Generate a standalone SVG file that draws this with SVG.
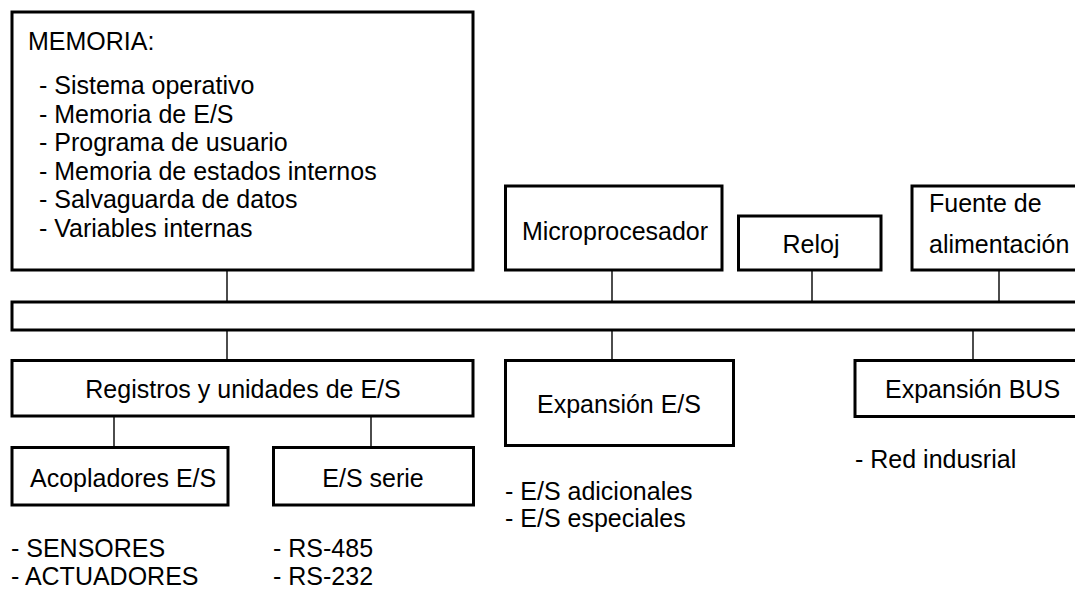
<svg xmlns="http://www.w3.org/2000/svg" width="1075" height="592" viewBox="0 0 1075 592">
<style>
  .box { fill: #ffffff; stroke: #000000; stroke-width: 3; }
  .wire { stroke: #000000; stroke-width: 1.4; fill: none; }
  text { font-family: "Liberation Sans", Arial, sans-serif; font-size: 25px; fill: #000000; }
  .mid { text-anchor: middle; }
</style>
<rect x="0" y="0" width="1075" height="592" fill="#ffffff"/>
<g id="connectors">
  <line class="wire" x1="227" y1="270" x2="227" y2="302"/>
  <line class="wire" x1="612" y1="270" x2="612" y2="302"/>
  <line class="wire" x1="812" y1="270" x2="812" y2="302"/>
  <line class="wire" x1="999" y1="270" x2="999" y2="302"/>
  <line class="wire" x1="227" y1="330" x2="227" y2="361"/>
  <line class="wire" x1="612" y1="330" x2="612" y2="361"/>
  <line class="wire" x1="973" y1="330" x2="973" y2="361"/>
  <line class="wire" x1="114" y1="416" x2="114" y2="447"/>
  <line class="wire" x1="371" y1="416" x2="371" y2="447"/>
</g>
<g id="bus">
  <rect class="box" x="12" y="302" width="1075" height="28"/>
</g>
<g id="memoria">
  <rect class="box" x="12" y="12" width="461" height="258"/>
  <text x="28" y="50">MEMORIA:</text>
  <text x="39" y="94">- Sistema operativo</text>
  <text x="39" y="122.5">- Memoria de E/S</text>
  <text x="39" y="151">- Programa de usuario</text>
  <text x="39" y="179.5">- Memoria de estados internos</text>
  <text x="39" y="208">- Salvaguarda de datos</text>
  <text x="39" y="236.5">- Variables internas</text>
</g>
<g id="microprocesador">
  <rect class="box" x="505.5" y="186" width="216.5" height="84"/>
  <text class="mid" x="615" y="240">Microprocesador</text>
</g>
<g id="reloj">
  <rect class="box" x="738.5" y="216" width="142.5" height="54"/>
  <text class="mid" x="811" y="253">Reloj</text>
</g>
<g id="fuente">
  <rect class="box" x="912" y="186" width="200" height="84"/>
  <text x="929" y="212">Fuente de</text>
  <text x="929" y="253">alimentación</text>
</g>
<g id="registros">
  <rect class="box" x="12" y="360.5" width="461" height="55.5"/>
  <text class="mid" x="243" y="398">Registros y unidades de E/S</text>
</g>
<g id="expansion-es">
  <rect class="box" x="505.5" y="360.5" width="228" height="85"/>
  <text x="537" y="413">Expansión E/S</text>
  <text x="505" y="500">- E/S adicionales</text>
  <text x="505" y="527">- E/S especiales</text>
</g>
<g id="expansion-bus">
  <rect class="box" x="855" y="360.5" width="250" height="56"/>
  <text x="885" y="398">Expansión BUS</text>
  <text x="855" y="468">- Red indusrial</text>
</g>
<g id="acopladores">
  <rect class="box" x="12" y="447.5" width="216" height="57.5"/>
  <text x="30" y="487">Acopladores E/S</text>
  <text x="11" y="557">- SENSORES</text>
  <text x="11" y="585">- ACTUADORES</text>
</g>
<g id="es-serie">
  <rect class="box" x="273.5" y="447.5" width="200" height="57.5"/>
  <text class="mid" x="373" y="487">E/S serie</text>
  <text x="273" y="557">- RS-485</text>
  <text x="273" y="585">- RS-232</text>
</g>
</svg>
